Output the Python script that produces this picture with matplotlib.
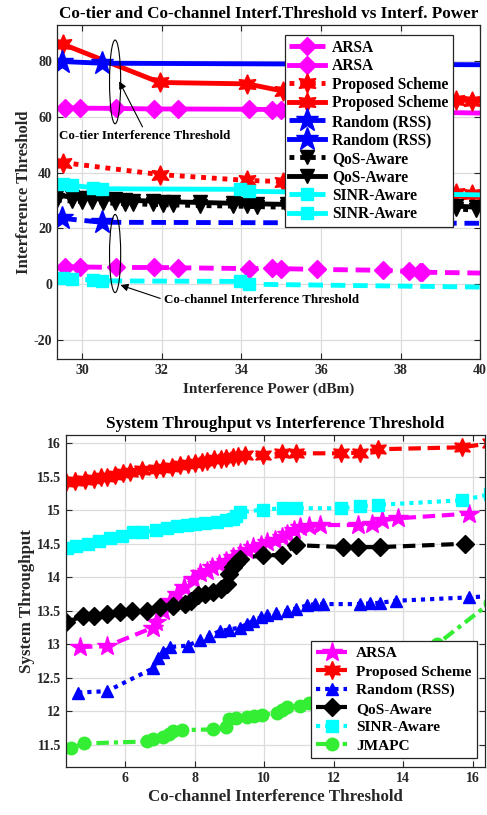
import matplotlib
matplotlib.use("Agg")
import matplotlib.pyplot as plt
from matplotlib.patches import Ellipse

plt.rcParams['font.family'] = ['Liberation Serif', 'DejaVu Serif']
plt.rcParams['font.weight'] = 'bold'
plt.rcParams['axes.unicode_minus'] = False

# ---- top chart data (interference threshold vs interference power) ----
arsa_x = [29.57, 29.95, 30.85, 31.8, 32.4, 34.2, 34.77, 35.0, 35.9, 37.55, 38.2, 38.5, 38.55, 40.5]
arsa_tier = [63.3, 63.1, 63.0, 62.8, 62.8, 62.7, 62.6, 62.5, 62.3, 62.0, 61.8, 61.7, 61.7, 61.2]
arsa_chan = [6.2, 6.2, 6.0, 6.0, 5.9, 5.6, 5.7, 5.6, 5.3, 5.0, 4.6, 4.3, 4.3, 3.9]

prop_x = [29.52, 31.95, 34.15, 35.05, 37.0, 39.4, 39.8, 41.0]
prop_tier = [86.0, 72.3, 71.8, 69.2, 67.5, 66.0, 65.8, 65.5]
prop_chan = [43.6, 39.3, 37.2, 36.8, 34.5, 32.6, 32.5, 32.3]

rand_x = [29.5, 30.5, 41.0]
rand_tier = [79.8, 79.2, 78.6]
rand_chan = [23.6, 22.2, 21.8]

qos_x = [29.37, 29.75, 30.0, 30.25, 30.53, 30.83, 31.08, 31.28, 31.78, 32.03,
         32.29, 32.96, 33.79, 34.15, 34.4, 35.15, 39.4, 39.9]
qos_tier = [31.8, 31.3, 31.0, 30.8, 30.6, 30.4, 30.2, 30.0, 29.8, 29.6,
            29.5, 29.3, 29.0, 28.9, 28.8, 28.6, 28.0, 27.6]
qos_chan = [30.2, 29.8, 29.6, 29.4, 29.2, 29.0, 28.9, 28.8, 28.6, 28.5,
            28.4, 28.2, 28.0, 27.9, 27.8, 27.6, 27.0, 26.5]

sinr_x = [29.52, 29.75, 30.28, 30.5, 33.97, 34.2, 41.0]
sinr_tier = [36.0, 35.4, 34.6, 34.2, 34.0, 33.3, 31.8]
sinr_chan = [2.1, 1.9, 1.5, 1.2, 1.0, 0.0, -1.2]

# ---- bottom chart data (throughput vs co-channel threshold) ----
b_arsa_x = [4.7, 5.48, 6.8, 6.9, 7.1, 7.3, 7.5, 7.7, 7.95, 8.15, 8.35, 8.5, 8.7, 8.9, 9.1, 9.3,
            9.5, 9.68, 9.9, 10.08, 10.3, 10.5, 10.65, 10.85, 11.03, 11.3, 11.6, 12.7, 13.1, 13.4, 13.85, 15.9]
b_arsa_y = [12.96, 12.97, 13.25, 13.33, 13.5, 13.65, 13.75, 13.85, 13.98, 14.06, 14.1, 14.15, 14.2, 14.25, 14.3, 14.36,
            14.4, 14.45, 14.48, 14.52, 14.56, 14.6, 14.65, 14.7, 14.75, 14.77, 14.78, 14.78, 14.8, 14.85, 14.88, 14.95]

b_prop_x = [4.3, 4.55, 4.85, 5.1, 5.3, 5.48, 5.7, 5.95, 6.14, 6.5, 6.9, 7.1, 7.35, 7.58, 7.8, 8.0,
            8.2, 8.36, 8.55, 8.75, 8.9, 9.1, 9.25, 9.45, 9.97, 10.5, 10.9, 12.2, 12.75, 13.27, 15.7, 16.5]
b_prop_y = [15.42, 15.44, 15.45, 15.47, 15.49, 15.5, 15.53, 15.55, 15.57, 15.6, 15.62, 15.63, 15.65, 15.67, 15.69, 15.7,
            15.72, 15.74, 15.76, 15.77, 15.78, 15.8, 15.81, 15.82, 15.83, 15.85, 15.85, 15.85, 15.86, 15.91, 15.94, 16.0]

b_rand_x = [4.65, 5.48, 6.8, 6.95, 7.1, 7.3, 7.8, 8.15, 8.4, 8.73, 9.0, 9.3, 9.5, 9.68,
            9.9, 10.08, 10.35, 10.65, 10.9, 11.23, 11.45, 11.7, 12.75, 13.05, 13.33, 13.8, 15.9, 16.5]
b_rand_y = [12.28, 12.3, 12.64, 12.8, 12.88, 12.96, 12.98, 13.06, 13.12, 13.2, 13.22, 13.25, 13.3, 13.35,
            13.4, 13.43, 13.46, 13.5, 13.53, 13.58, 13.6, 13.6, 13.6, 13.61, 13.62, 13.65, 13.7, 13.72]

b_qos_x = [4.3, 4.8, 5.1, 5.48, 5.86, 6.2, 6.63, 7.0, 7.38, 7.72, 7.9, 8.1, 8.3, 8.53,
           8.75, 8.93, 9.0, 9.1, 9.2, 9.3, 9.97, 10.5, 10.9, 12.26, 12.7, 13.33, 15.77]
b_qos_y = [13.33, 13.42, 13.42, 13.45, 13.48, 13.5, 13.5, 13.55, 13.57, 13.6, 13.65, 13.73, 13.75, 13.78,
           13.82, 13.9, 14.05, 14.15, 14.22, 14.28, 14.33, 14.33, 14.48, 14.45, 14.45, 14.45, 14.5]

b_sinr_x = [4.33, 4.6, 4.94, 5.25, 5.57, 5.9, 6.23, 6.5, 6.9, 7.2, 7.5, 7.77, 8.0, 8.3,
            8.63, 8.9, 9.1, 9.2, 9.3, 9.97, 10.55, 10.9, 12.2, 12.75, 13.27, 15.7, 16.5]
b_sinr_y = [14.43, 14.46, 14.5, 14.54, 14.58, 14.62, 14.67, 14.68, 14.7, 14.73, 14.76, 14.78, 14.79, 14.81,
            14.83, 14.85, 14.87, 14.92, 14.97, 15.01, 15.03, 15.03, 15.03, 15.06, 15.08, 15.15, 15.24]

b_jm_x = [4.43, 4.82, 6.63, 6.8, 7.1, 7.25, 7.38, 7.65, 8.53, 8.9, 9.0, 9.2,
          9.5, 9.7, 9.93, 10.37, 10.5, 10.65, 11.03, 11.3, 12.5, 13.8, 14.97, 16.5]
b_jm_y = [11.45, 11.52, 11.55, 11.58, 11.62, 11.66, 11.7, 11.72, 11.73, 11.76, 11.88, 11.9,
          11.92, 11.93, 11.94, 11.98, 12.02, 12.06, 12.08, 12.12, 12.3, 12.6, 13.0, 13.62]

MAG = '#ff00ff'
RED = '#ff0000'
BLUE = '#0000ff'
CYAN = '#00ffff'
GREEN = '#33ee33'
HEX = (6, 1, 0)   # hexagram

DASH = (0, (3, 1.6))
DOT = (0, (1, 1.2))
DASHDOT = (0, (3, 1.2, 1, 1.2))


def style_axes(ax):
    ax.grid(True, color='#dcdcdc', linewidth=0.9)
    ax.set_axisbelow(True)
    ax.tick_params(direction='in', top=True, right=True, labelsize=10,
                   colors='#262626', length=4)
    for s in ax.spines.values():
        s.set_color('#262626')
        s.set_linewidth(0.9)
    for lab in ax.get_xticklabels() + ax.get_yticklabels():
        lab.set_fontweight('bold')


fig = plt.figure(figsize=(4.87, 8.15), dpi=100)

# ---------------- top chart ----------------
ax1 = fig.add_axes([0.117, 0.5595, 0.869, 0.4095])
lw = 3.5
ms = 10
ax1.plot(arsa_x, arsa_chan, linestyle=DASH, color=MAG, lw=lw, marker='D', ms=ms - 1, label='ARSA')
ax1.plot(arsa_x, arsa_tier, linestyle='-', color=MAG, lw=lw, marker='D', ms=ms - 1, label='ARSA')
ax1.plot(prop_x, prop_chan, linestyle=DOT, color=RED, lw=lw, marker=HEX, ms=ms + 4, label='Proposed Scheme')
ax1.plot(prop_x, prop_tier, linestyle='-', color=RED, lw=lw, marker=HEX, ms=ms + 4, label='Proposed Scheme')
ax1.plot(rand_x, rand_chan, linestyle=DASH, color=BLUE, lw=lw, marker='*', ms=ms + 7, label='Random (RSS)')
ax1.plot(rand_x, rand_tier, linestyle='-', color=BLUE, lw=lw, marker='*', ms=ms + 7, label='Random (RSS)')
ax1.plot(qos_x, qos_chan, linestyle=DOT, color='black', lw=lw, marker='v', ms=ms, label='QoS-Aware')
ax1.plot(qos_x, qos_tier, linestyle='-', color='black', lw=lw, marker='v', ms=ms, label='QoS-Aware')
ax1.plot(sinr_x, sinr_chan, linestyle=DASH, color=CYAN, lw=lw, marker='s', ms=ms - 1, label='SINR-Aware')
ax1.plot(sinr_x, sinr_tier, linestyle='-', color=CYAN, lw=lw, marker='s', ms=ms - 1, label='SINR-Aware')

ax1.set_xlim(29.37, 40)
ax1.set_ylim(-26.8, 92.8)
ax1.set_xticks([30, 32, 34, 36, 38, 40])
ax1.set_yticks([-20, 0, 20, 40, 60, 80])
style_axes(ax1)
ax1.set_title('Co-tier and Co-channel Interf.Threshold vs Interf. Power',
              fontsize=12.3, fontweight='bold', pad=5)
ax1.set_xlabel('Interference Power (dBm)', fontsize=11.1, fontweight='bold', color='#262626', labelpad=4)
ax1.set_ylabel('Interference Threshold', fontsize=12, fontweight='bold', color='#262626', labelpad=1)

ax1.add_patch(Ellipse((30.83, 72.5), 0.28, 30, fill=False, ec='black', lw=0.8, zorder=5))
ax1.add_patch(Ellipse((30.83, 11), 0.28, 28, fill=False, ec='black', lw=0.8, zorder=5))
ax1.annotate('', xy=(30.9, 73.6), xytext=(31.55, 55.5),
             arrowprops=dict(arrowstyle='-|>', color='black', lw=0.8, mutation_scale=11), zorder=6)
ax1.text(29.42, 53.2, 'Co-tier Interference Threshold', fontsize=9.4, fontweight='bold',
         va='center', ha='left', zorder=6)
ax1.annotate('', xy=(30.9, 0), xytext=(32.03, -5.4),
             arrowprops=dict(arrowstyle='-|>', color='black', lw=0.8, mutation_scale=11), zorder=6)
ax1.text(32.05, -5.6, 'Co-channel Interference Threshold', fontsize=9.4, fontweight='bold',
         va='center', ha='left', zorder=6)

leg1 = ax1.legend(loc='upper right', bbox_to_anchor=(0.936, 0.970), borderaxespad=0, fontsize=11.2,
                  handlelength=2.3, labelspacing=0.16, borderpad=0.3, handletextpad=0.45,
                  fancybox=False, framealpha=1, edgecolor='#262626')
leg1.get_frame().set_linewidth(0.9)
leg1.set_zorder(10)
for t in leg1.get_texts():
    t.set_fontweight('bold')

# ---------------- bottom chart ----------------
ax2 = fig.add_axes([0.1355, 0.059, 0.8605, 0.407])
lw2 = 3.0
ms2 = 9
ax2.plot(b_arsa_x, b_arsa_y, linestyle=DASH, color=MAG, lw=lw2, marker='*', ms=ms2 + 6, label='ARSA')
ax2.plot(b_prop_x, b_prop_y, linestyle=DASH, color=RED, lw=lw2, marker=HEX, ms=ms2 + 4, label='Proposed Scheme')
ax2.plot(b_rand_x, b_rand_y, linestyle=DOT, color=BLUE, lw=lw2, marker='^', ms=ms2, label='Random (RSS)')
ax2.plot(b_qos_x, b_qos_y, linestyle=DASH, color='black', lw=lw2, marker='D', ms=ms2, label='QoS-Aware')
ax2.plot(b_sinr_x, b_sinr_y, linestyle=DOT, color=CYAN, lw=lw2, marker='s', ms=ms2, label='SINR-Aware')
ax2.plot(b_jm_x, b_jm_y, linestyle=DASHDOT, color=GREEN, lw=lw2, marker='o', ms=ms2, label='JMAPC')

ax2.set_xlim(4.3, 16.35)
ax2.set_ylim(11.17, 16.12)
ax2.set_xticks([6, 8, 10, 12, 14, 16])
ax2.set_yticks([11.5, 12, 12.5, 13, 13.5, 14, 14.5, 15, 15.5, 16])
ax2.set_yticklabels(['11.5', '12', '12.5', '13', '13.5', '14', '14.5', '15', '15.5', '16'])
style_axes(ax2)
ax2.set_title('System Throughput vs Interference Threshold', fontsize=12.3, fontweight='bold', pad=5)
ax2.set_xlabel('Co-channel Interference Threshold', fontsize=12.2, fontweight='bold', color='#262626', labelpad=3)
ax2.set_ylabel('System Throughput', fontsize=12.2, fontweight='bold', color='#262626', labelpad=1)

leg2 = ax2.legend(loc='lower right', bbox_to_anchor=(0.981, 0.027), borderaxespad=0, fontsize=11.1,
                  handlelength=2.0, labelspacing=0.3, borderpad=0.35, handletextpad=0.6,
                  fancybox=False, framealpha=1, edgecolor='#262626')
leg2.get_frame().set_linewidth(0.9)
leg2.set_zorder(10)
for t in leg2.get_texts():
    t.set_fontweight('bold')

fig.savefig('out.png', dpi=100)
